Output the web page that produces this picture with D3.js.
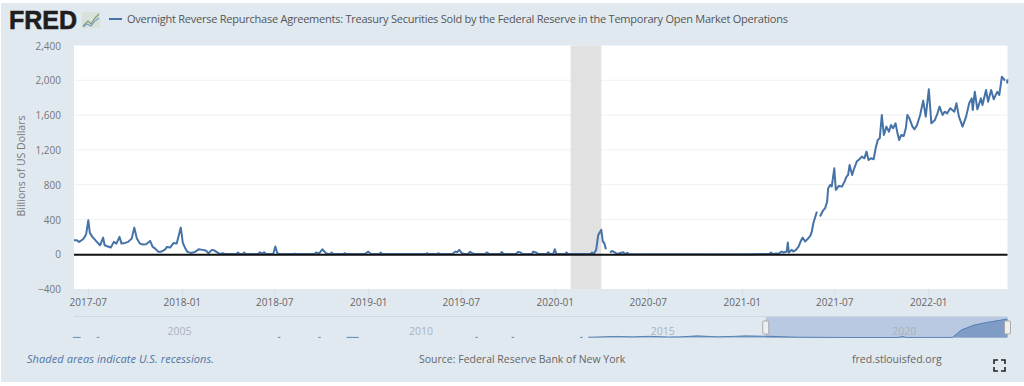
<!DOCTYPE html>
<html>
<head>
<meta charset="utf-8">
<script src="https://cdn.jsdelivr.net/npm/d3@7"></script>
<style>
  html, body { margin: 0; padding: 0; background: #fff; overflow: hidden; }
  text { font-family: "Open Sans", sans-serif; }
  .domain { display: none; }
</style>
</head>
<body>
<div id="chart"></div>
<script>
// Series values (billions of US dollars). null = gap in the line
const earlyDates = ["2017-06-04","2017-06-09","2017-06-14","2017-06-21","2017-06-26","2017-06-28","2017-07-02","2017-07-05","2017-07-10","2017-07-17","2017-07-25","2017-07-31","2017-08-03","2017-08-08","2017-08-15","2017-08-21","2017-08-26","2017-09-01","2017-09-05","2017-09-12","2017-09-18","2017-09-25","2017-09-30","2017-10-05","2017-10-11","2017-10-17","2017-10-23","2017-10-31","2017-11-05","2017-11-10","2017-11-16","2017-11-21","2017-11-29","2017-12-03","2017-12-09","2017-12-16","2017-12-22","2017-12-30","2018-01-03","2018-01-08","2018-01-12","2018-01-19","2018-01-27"];
const earlyValues = [161,161,142,169,207,238,391,245,199,153,103,191,103,92,77,142,122,199,122,130,142,180,306,180,122,111,115,153,84,65,27,27,54,84,77,130,122,306,130,65,27,15,27];

const flatDates = ["2018-02-03","2018-02-11","2018-02-17","2018-02-22","2018-03-01","2018-03-06","2018-03-12","2018-03-18","2018-03-22","2018-03-26","2018-04-18","2018-04-21","2018-04-24","2018-05-01","2018-05-03","2018-05-06","2018-05-30","2018-06-03","2018-06-07","2018-06-11","2018-06-15","2018-06-29","2018-07-03","2018-07-07","2018-07-11","2018-08-08","2018-08-10","2018-08-12","2018-09-17","2018-09-21","2018-09-27","2018-10-03","2018-10-10","2018-10-14","2018-10-19","2018-10-21","2018-10-24","2018-11-13","2018-11-16","2018-11-19","2018-12-25","2019-01-01","2019-01-06","2019-01-23","2019-01-25","2019-01-28","2019-04-24","2019-04-26","2019-04-29","2019-05-16","2019-05-18","2019-05-21","2019-06-15","2019-06-20","2019-06-24","2019-06-28","2019-07-03","2019-07-08","2019-07-15","2019-07-19","2019-07-23","2019-07-28","2019-08-17","2019-08-21","2019-08-26","2019-09-16","2019-09-19","2019-09-23","2019-10-17","2019-10-21","2019-10-26","2019-10-30","2019-11-17","2019-11-20","2019-11-25","2019-11-30","2019-12-16","2019-12-19","2019-12-23","2019-12-29","2020-01-01","2020-01-04","2020-01-21","2020-01-24","2020-01-27","2020-03-11","2020-03-14","2020-03-18","2020-03-22","2020-03-26","2020-04-01","2020-04-04","2020-04-07","2020-04-10","2020-04-14","2020-04-18","2020-04-22","2020-04-28","2020-05-02","2020-05-14","2020-05-17","2020-05-22","2020-05-25","2021-01-15","2021-02-24","2021-02-27","2021-03-02","2021-03-10","2021-03-13","2021-03-20"];
const flatValues = [57,50,42,12,50,42,19,2,12,3,2,19,2,2,19,2,2,23,5,23,2,2,88,12,2,2,8,2,2,19,10,57,12,2,2,19,2,2,12,2,2,30,2,2,19,2,2,12,2,2,12,2,2,30,25,50,12,2,2,27,12,2,2,20,2,2,25,2,2,27,20,2,2,30,20,2,2,23,2,2,57,2,2,19,2,2,19,10,50,222,280,146,126,57,null,19,38,19,2,23,2,15,2,1,2,19,2,8,2,31];

const riseDates = ["2021-03-23","2021-03-30","2021-04-01","2021-04-03","2021-04-09","2021-04-12","2021-04-17","2021-04-22","2021-04-26","2021-04-30","2021-05-05","2021-05-10","2021-05-15","2021-05-18","2021-05-21","2021-05-25","2021-05-28","2021-05-31","2021-06-03","2021-06-09","2021-06-13","2021-06-17","2021-06-19","2021-06-23","2021-06-26","2021-07-01","2021-07-04","2021-07-10","2021-07-16","2021-07-21","2021-07-25","2021-07-28","2021-07-31","2021-08-05","2021-08-09","2021-08-14","2021-08-19","2021-08-24","2021-08-29","2021-09-02","2021-09-06","2021-09-11","2021-09-16","2021-09-20","2021-09-24","2021-09-28","2021-10-02","2021-10-06","2021-10-11","2021-10-16","2021-10-20","2021-10-24","2021-10-29","2021-11-01","2021-11-05","2021-11-09","2021-11-14","2021-11-18","2021-11-21","2021-11-25","2021-12-01","2021-12-05","2021-12-10","2021-12-16","2021-12-22","2021-12-27","2022-01-02","2022-01-07","2022-01-14","2022-01-19","2022-01-23","2022-01-29","2022-02-02","2022-02-07","2022-02-13","2022-02-21","2022-02-25","2022-03-02","2022-03-09","2022-03-16","2022-03-22","2022-03-27","2022-03-29","2022-04-02","2022-04-07","2022-04-14","2022-04-17","2022-04-24","2022-04-28","2022-05-04","2022-05-09","2022-05-16","2022-05-20","2022-05-25","2022-05-31","2022-06-02","2022-06-04","2022-06-05"];
const riseValues = [19,31,134,19,50,31,50,88,146,192,146,176,211,260,356,433,490,null,433,502,529,605,758,797,778,988,739,785,777,835,892,911,1026,911,988,1065,1092,1122,1103,1180,1084,1103,1092,1218,1314,1333,1601,1371,1467,1409,1486,1448,1505,1409,1314,1371,1360,1448,1601,1563,1467,1436,1486,1601,1766,1582,1896,1505,1544,1620,1697,1601,1639,1620,1678,1639,1735,1582,1467,1582,1735,1792,1658,1869,1666,1792,1716,1888,1754,1888,1781,1869,1831,2041,1995,null,1965,2011];

// Navigator (whole history) series
const navDates = ["2003-02-01","2003-04-01","2003-04-02","2003-08-01","2003-08-20","2003-08-21","2007-05-01","2007-05-20","2007-05-21","2008-03-01","2008-03-20","2008-03-21","2008-10-01","2009-01-01","2009-01-02","2011-06-01","2011-06-20","2011-06-21","2012-03-01","2012-03-20","2012-03-21","2013-08-01","2013-08-20","2013-08-21","2013-10-01","2014-05-01","2014-09-01","2015-01-01","2015-06-01","2015-09-01","2016-01-01","2016-06-01","2016-10-01","2017-01-01","2017-07-01","2018-02-01","2019-01-01","2020-03-01","2020-04-01","2020-05-01","2021-04-15","2021-06-20","2021-09-25","2021-12-15","2022-06-05"];
const navValues = [10,10,null,10,10,null,10,10,null,10,10,null,15,15,null,10,10,null,10,10,null,10,10,null,30,120,70,130,60,70,180,80,120,180,130,30,5,5,120,5,10,810,1350,1600,2011];

const yTicks = [-400, 0, 400, 800, 1200, 1600, 2000, 2400];
const navYears = ["2005-01-01", "2010-01-01", "2015-01-01", "2020-01-01"];
const recession = ["2020-02-01", "2020-04-01"];
const xRange = ["2017-06-04", "2022-06-05"];
const navRange = ["2003-02-10", "2022-06-05"];

const seriesTitle = "Overnight Reverse Repurchase Agreements: Treasury Securities Sold by the Federal Reserve in the Temporary Open Market Operations";

const parseDate = d3.timeParse("%Y-%m-%d");
const width = 1024, height = 386;
const plot = { left: 74, right: 1007.5, top: 45.5, bottom: 289 };
const lineColor = "#4572a7";

const svg = d3.select("#chart").append("svg")
    .attr("width", width)
    .attr("height", height)
    .style("display", "block");

// Panel background
svg.append("rect").attr("x", 1).attr("y", 3).attr("width", width - 1).attr("height", 379).attr("fill", "#e1e9f0");

// Scales
const x = d3.scaleTime().domain(xRange.map(parseDate)).range([plot.left, plot.right]);
const y = d3.scaleLinear().domain([-400, 2400]).range([plot.bottom, plot.top]);
const navX = d3.scaleTime().domain(navRange.map(parseDate)).range([plot.left, plot.right]);
const navY = d3.scaleLinear().domain([0, 2011]).range([337.5, 319]);

// Plot area
svg.append("rect")
    .attr("x", plot.left).attr("y", plot.top)
    .attr("width", plot.right - plot.left).attr("height", plot.bottom - plot.top)
    .attr("fill", "#fff");

// Gridlines
svg.append("g").selectAll("line")
    .data(yTicks.filter(d => d > -400 && d < 2400))
    .enter().append("line")
    .attr("x1", plot.left).attr("x2", plot.right)
    .attr("y1", d => y(d)).attr("y2", d => y(d))
    .attr("stroke", "#f1f1f1").attr("stroke-width", 1);

// Recession band
svg.append("rect")
    .attr("x", x(parseDate(recession[0])))
    .attr("y", plot.top)
    .attr("width", x(parseDate(recession[1])) - x(parseDate(recession[0])))
    .attr("height", plot.bottom - plot.top)
    .attr("fill", "#e1e1e1");

// Main series
const dates = earlyDates.concat(flatDates, riseDates).map(parseDate);
const values = earlyValues.concat(flatValues, riseValues);
const points = dates.map((d, i) => ({ date: d, value: values[i] }));

const line = d3.line()
    .defined(d => d.value != null)
    .x(d => x(d.date))
    .y(d => y(d.value));

svg.append("path")
    .attr("d", line(points))
    .attr("fill", "none")
    .attr("stroke", lineColor)
    .attr("stroke-width", 2)
    .attr("stroke-linejoin", "round");

// Zero line
svg.append("line")
    .attr("x1", plot.left).attr("x2", plot.right)
    .attr("y1", y(0) + 0.5).attr("y2", y(0) + 0.5)
    .attr("stroke", "#111").attr("stroke-width", 2);

// Y axis
const yAxis = svg.append("g")
    .attr("transform", `translate(${plot.left},0.5)`)
    .call(d3.axisLeft(y).tickValues(yTicks).tickSize(0).tickPadding(13).tickFormat(d3.format(",")));
yAxis.selectAll("text").attr("fill", "#777").style("font-size", "10px");

svg.append("text")
    .attr("transform", "translate(25,166) rotate(-90)")
    .attr("text-anchor", "middle")
    .attr("fill", "#777")
    .style("font-size", "10.5px")
    .text("Billions of US Dollars");

// X axis
const xAxis = svg.append("g")
    .attr("transform", `translate(0,${plot.bottom})`)
    .call(d3.axisBottom(x).ticks(d3.timeMonth.every(6)).tickSize(8).tickPadding(2).tickFormat(d3.timeFormat("%Y-%m")));
xAxis.selectAll("line").attr("stroke", "#d3dce6");
xAxis.selectAll("text").attr("fill", "#666").style("font-size", "10px");

// Navigator
svg.append("line")
    .attr("x1", plot.left).attr("x2", plot.right)
    .attr("y1", 316.5).attr("y2", 316.5)
    .attr("stroke", "#cfd8e2");

svg.append("rect")
    .attr("x", navX(x.domain()[0])).attr("y", 317)
    .attr("width", navX(x.domain()[1]) - navX(x.domain()[0])).attr("height", 21)
    .attr("fill", "#b9c9e1");

const navPoints = navDates.map((d, i) => ({ date: parseDate(d), value: navValues[i] }));

svg.append("path")
    .attr("d", d3.area()
        .defined(d => d.value != null)
        .x(d => navX(d.date))
        .y0(navY(0))
        .y1(d => navY(d.value))(navPoints))
    .attr("fill", "#7f9cc7");

svg.append("path")
    .attr("d", d3.line()
        .defined(d => d.value != null)
        .x(d => navX(d.date))
        .y(d => navY(d.value))(navPoints))
    .attr("fill", "none")
    .attr("stroke", lineColor)
    .attr("stroke-width", 0.8);

svg.append("g").selectAll("text")
    .data(navYears)
    .enter().append("text")
    .attr("x", d => navX(parseDate(d)) + 14)
    .attr("y", 335)
    .attr("text-anchor", "middle")
    .attr("fill", "#a9b2bd")
    .style("font-size", "10.5px")
    .text(d => d.slice(0, 4));

// Navigator handles
svg.append("g").selectAll("rect")
    .data(x.domain())
    .enter().append("rect")
    .attr("x", d => navX(d) - 3)
    .attr("y", 321)
    .attr("width", 6).attr("height", 13).attr("rx", 1)
    .attr("fill", "#efefef").attr("stroke", "#a8a8a8");

// Header: logo, legend, title
svg.append("text")
    .attr("x", 9).attr("y", 29)
    .attr("fill", "#1e1e1e")
    .style("font-family", "'Liberation Sans', sans-serif")
    .style("font-weight", 700)
    .style("font-size", "25px")
    .attr("stroke", "#1e1e1e").attr("stroke-width", 0.6)
    .attr("textLength", 68)
    .text("FRED");

const logo = svg.append("g").attr("transform", "translate(82,12)");
logo.append("rect").attr("width", 18).attr("height", 16).attr("fill", "#d9e2da");
logo.append("path").attr("d", "M1,14 L6,9 L9,12 L13,6 L17,2").attr("fill", "none").attr("stroke", "#7f9f73").attr("stroke-width", 1.2);
logo.append("path").attr("d", "M1,15 L5,12 L9,14 L13,9 L17,6").attr("fill", "none").attr("stroke", "#7f9cc7").attr("stroke-width", 1.2);

svg.append("line")
    .attr("x1", 109).attr("x2", 122).attr("y1", 19).attr("y2", 19)
    .attr("stroke", lineColor).attr("stroke-width", 2);

svg.append("text")
    .attr("x", 127).attr("y", 23)
    .attr("fill", "#555")
    .style("font-size", "11px")
    .attr("textLength", 661)
    .text(seriesTitle);

// Footer
svg.append("text")
    .attr("x", 27).attr("y", 363)
    .attr("fill", "#4f74a3")
    .style("font-size", "11px").style("font-style", "italic")
    .attr("textLength", 187)
    .text("Shaded areas indicate U.S. recessions.");

svg.append("text")
    .attr("x", 419).attr("y", 363)
    .attr("fill", "#666")
    .style("font-size", "10.5px")
    .text("Source: Federal Reserve Bank of New York");

svg.append("text")
    .attr("x", 852).attr("y", 363)
    .attr("fill", "#666")
    .style("font-size", "10.5px")
    .text("fred.stlouisfed.org");

// Fullscreen icon
svg.append("path")
    .attr("d", "M994,364 V360 H998 M1001,360 H1005 V364 M1005,367 V371 H1001 M998,371 H994 V367")
    .attr("fill", "none").attr("stroke", "#222").attr("stroke-width", 1.6);
</script>
</body>
</html>
